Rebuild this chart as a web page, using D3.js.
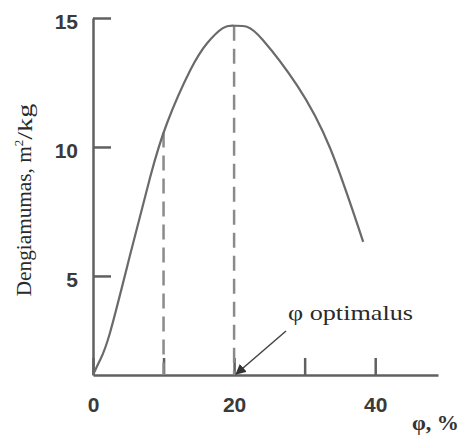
<!DOCTYPE html>
<html>
<head>
<meta charset="utf-8">
<script src="https://cdn.jsdelivr.net/npm/d3@7"></script>
<style>
  body { margin: 0; background: #fff; }
</style>
</head>
<body>
<div class="item"></div>
<script>
// data
var phi = [0, 1, 2.4, 5.2, 8.1, 10.5, 13.8, 16.2, 18.4, 20, 21.8, 24.1, 28.9, 33.6, 38.3];
var dens = [1.16, 1.74, 2.79, 5.75, 8.83, 10.93, 12.98, 14.03, 14.61, 14.7, 14.66, 14.14, 12.4, 9.96, 6.32];
var yTicks = [5, 10, 15];
var xTicks = [0, 10, 20, 30, 40];
var xLabels = [0, 20, 40];
var dashAt = [10, 20];   // dashed guide lines
var optimum = 20;

var width = 467, height = 437;

var svg = d3.select(".item")
    .append("svg")
    .attr("width", width)
    .attr("height", height);

var x = d3.scaleLinear().domain([0, 48.9]).range([93, 438]);
var y = d3.scaleLinear().domain([1.16, 15]).range([375, 18]);

var axisColor = "#606060";
var serif = "Liberation Serif, Times New Roman, serif";
var sans = "Liberation Sans, Arial, sans-serif";

// y axis, ticks pointing inward
var yAxis = svg.append("g")
    .attr("transform", "translate(" + x(0) + ",0)")
    .call(d3.axisLeft(y).tickValues(yTicks).tickSize(-18).tickSizeOuter(0).tickPadding(15));
yAxis.select(".domain").attr("stroke", axisColor).attr("stroke-width", 2.5);
yAxis.selectAll(".tick line").attr("stroke", axisColor).attr("stroke-width", 2.5);
yAxis.selectAll(".tick text")
    .attr("font-family", sans)
    .attr("font-size", 21)
    .attr("font-weight", "bold")
    .attr("fill", "#3a3a3a")
    .attr("dy", "0.5em");

// x axis
var xAxis = svg.append("g")
    .attr("transform", "translate(0," + y(1.16) + ")")
    .call(d3.axisBottom(x).tickValues(xTicks).tickSize(-17).tickSizeOuter(0).tickPadding(22)
        .tickFormat(function(d) { return xLabels.indexOf(d) >= 0 ? d : ""; }));
xAxis.select(".domain").attr("stroke", axisColor).attr("stroke-width", 2.5);
xAxis.selectAll(".tick line").attr("stroke", axisColor).attr("stroke-width", 2.5);
xAxis.selectAll(".tick text")
    .attr("font-family", sans)
    .attr("font-size", 21)
    .attr("font-weight", "bold")
    .attr("fill", "#3a3a3a");

// curve
var line = d3.line()
    .x(function(d, i) { return x(phi[i]); })
    .y(function(d) { return y(d); })
    .curve(d3.curveNatural);

var curve = svg.append("path")
    .attr("class", "curve")
    .datum(dens)
    .attr("d", line)
    .attr("fill", "none")
    .attr("stroke", "#6a6a6a")
    .attr("stroke-width", 2.2);

// dashed guides from the curve down to the axis (height taken from the drawn path)
var node = curve.node(), total = node.getTotalLength();
function curveY(px) {
    var lo = 0, hi = total;
    for (var k = 0; k < 40; k++) {
        var mid = (lo + hi) / 2;
        if (node.getPointAtLength(mid).x < px) lo = mid; else hi = mid;
    }
    return node.getPointAtLength(lo).y;
}
svg.selectAll(".guide")
    .data(dashAt)
    .enter().insert("line", ".curve")
    .attr("class", "guide")
    .attr("x1", function(d) { return x(d); })
    .attr("x2", function(d) { return x(d); })
    .attr("y1", function(d) { return curveY(x(d)); })
    .attr("y2", y(1.16))
    .attr("stroke", "#8a8a8a")
    .attr("stroke-width", 2.5)
    .attr("stroke-dasharray", "15,8");

// y title
var yt = svg.append("text")
    .attr("transform", "translate(31,200) rotate(-90)")
    .attr("text-anchor", "middle")
    .attr("font-family", serif)
    .attr("font-size", 21)
    .attr("fill", "#2a2a2a");
yt.append("tspan").attr("textLength", 150).attr("lengthAdjust", "spacingAndGlyphs").text("Dengiamumas, m");
yt.append("tspan").attr("font-size", 13).attr("dy", "-0.6em").text("2");
yt.append("tspan").attr("dy", "0.4em").attr("textLength", 36).attr("lengthAdjust", "spacingAndGlyphs").text("/kg");

// x title
svg.append("text")
    .attr("x", 412)
    .attr("y", 430)
    .attr("font-family", serif)
    .attr("font-size", 21)
    .attr("font-weight", "bold")
    .attr("fill", "#333")
    .attr("textLength", 47)
    .attr("lengthAdjust", "spacingAndGlyphs")
    .text("φ, %");

// optimum arrow
svg.append("defs").append("marker")
    .attr("id", "head")
    .attr("viewBox", "0 0 10 10")
    .attr("refX", 9).attr("refY", 5)
    .attr("markerWidth", 7).attr("markerHeight", 7)
    .attr("orient", "auto")
    .append("path")
    .attr("d", "M0,0L10,5L0,10z")
    .attr("fill", "#333");

svg.append("line")
    .attr("x1", 286).attr("y1", 331)
    .attr("x2", x(optimum) + 2).attr("y2", y(1.16) - 1)
    .attr("stroke", "#444")
    .attr("stroke-width", 1.5)
    .attr("marker-end", "url(#head)");

svg.append("text")
    .attr("x", 288)
    .attr("y", 320)
    .attr("font-family", serif)
    .attr("font-size", 22)
    .attr("fill", "#2a2a2a")
    .attr("textLength", 125)
    .attr("lengthAdjust", "spacingAndGlyphs")
    .text("φ optimalus");
</script>
</body>
</html>
